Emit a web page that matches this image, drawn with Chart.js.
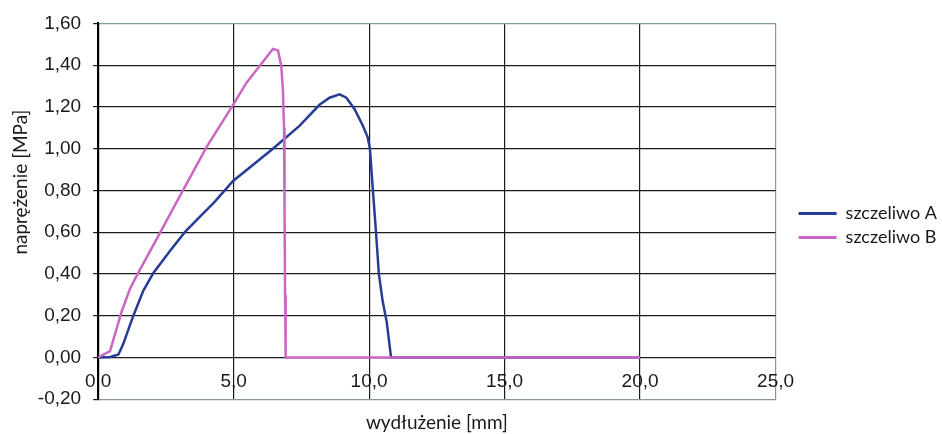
<!DOCTYPE html>
<html>
<head>
<meta charset="utf-8">
<script src="https://cdn.jsdelivr.net/npm/chart.js@4.4.0/dist/chart.umd.min.js"></script>
<style>
  html, body { margin: 0; padding: 0; background: #fff; }
  #wrap { width: 942px; height: 434px; }
</style>
</head>
<body>
<div id="wrap"><canvas id="stressChart"></canvas></div>
<script>
// wydłużenie [mm] -> naprężenie [MPa]
const sealantAX = [0, 0.45, 0.75, 0.93, 1.3, 1.67, 2.04, 2.65, 3.2, 3.76, 4.3, 4.98, 6.45, 7.44, 8.17, 8.54, 8.91, 9.16, 9.46, 9.77, 9.95, 10.03, 10.14, 10.26, 10.36, 10.5, 10.65, 10.81, 20];
const sealantAY = [0, 0.002, 0.014, 0.065, 0.2, 0.32, 0.405, 0.51, 0.6, 0.675, 0.745, 0.845, 1.0, 1.11, 1.21, 1.244, 1.26, 1.244, 1.19, 1.11, 1.054, 1.0, 0.8, 0.59, 0.4, 0.27, 0.17, 0, 0];
const sealantBX = [0, 0.07, 0.44, 0.87, 1.18, 1.48, 2.28, 2.9, 3.76, 4.0, 4.98, 5.47, 6.09, 6.45, 6.64, 6.76, 6.82, 6.86, 6.88, 6.9, 6.92, 20];
const sealantBY = [0, 0.005, 0.03, 0.22, 0.33, 0.405, 0.595, 0.745, 0.95, 1.007, 1.21, 1.315, 1.418, 1.478, 1.47, 1.395, 1.28, 1.1, 0.7, 0.3, 0, 0];

const seriesNames = ["szczeliwo A", "szczeliwo B"];
const xTicks = [0, 5, 10, 15, 20, 25];
const yTicks = [-0.2, 0, 0.2, 0.4, 0.6, 0.8, 1.0, 1.2, 1.4, 1.6];

function toPoints(xs, ys) {
  return xs.map((x, i) => ({ x: x, y: ys[i] }));
}
function comma(v, digits) {
  return v.toFixed(digits).replace(".", ",");
}

const tickFont = { family: "'Liberation Sans', Arial, sans-serif", size: 19 };
const titleFont = { family: "Lato, 'Open Sans', sans-serif", size: 19 };
const legendFont = { family: "Lato, 'Open Sans', sans-serif", size: 18 };
const frameGray = "#8c9597";

Chart.defaults.color = "#1a1a1a";

const ctx = document.getElementById("stressChart").getContext("2d");
new Chart(ctx, {
  type: "scatter",
  data: {
    datasets: [
      {
        label: seriesNames[0],
        data: toPoints(sealantAX, sealantAY),
        showLine: true,
        borderColor: "#263d96",
        backgroundColor: "#263d96",
        borderWidth: 2.5,
        pointRadius: 0,
        order: 1
      },
      {
        label: seriesNames[1],
        data: toPoints(sealantBX, sealantBY),
        showLine: true,
        borderColor: "#cc66c4",
        backgroundColor: "#cc66c4",
        borderWidth: 2.5,
        pointRadius: 0,
        order: 0
      }
    ]
  },
  options: {
    responsive: true,
    maintainAspectRatio: false,
    animation: false,
    layout: { padding: { left: 4, right: -5, top: 17, bottom: 0 } },
    plugins: {
      tooltip: { enabled: false },
      legend: {
        position: "right",
        labels: {
          font: legendFont,
          color: "#1a1a1a",
          boxWidth: 38,
          boxHeight: 3,
          padding: 6,
          sort: (a, b) => a.datasetIndex - b.datasetIndex,
          generateLabels: chart =>
            Chart.defaults.plugins.legend.labels.generateLabels(chart).map(l => {
              l.lineWidth = 0;
              l.fillStyle = chart.data.datasets[l.datasetIndex].borderColor;
              return l;
            })
        }
      }
    },
    scales: {
      x: {
        type: "linear",
        min: 0,
        max: 25,
        afterBuildTicks: s => { s.ticks = xTicks.map(v => ({ value: v })); },
        ticks: { display: false },
        grid: {
          drawTicks: false,
          lineWidth: 1.2,
          color: c => (c.tick && c.tick.value === 25 ? frameGray : "#1c1c1c")
        },
        border: { display: true, color: frameGray, width: 1 },
        title: {
          display: true,
          text: "wydłużenie [mm]",
          font: titleFont,
          color: "#1a1a1a",
          padding: { top: 12, bottom: 0 }
        }
      },
      // tick labels sit just under the zero line, like the original
      xLabels: {
        axis: "x",
        type: "linear",
        min: 0,
        max: 25,
        position: { y: 0 },
        afterBuildTicks: s => { s.ticks = xTicks.map(v => ({ value: v })); },
        afterFit: s => { s.height = 0; },
        ticks: {
          font: tickFont,
          color: "#1a1a1a",
          padding: 5,
          maxRotation: 0,
          autoSkip: false,
          callback: v => comma(v, 1)
        },
        grid: { display: false },
        border: { display: false }
      },
      y: {
        type: "linear",
        min: -0.2,
        max: 1.6,
        afterBuildTicks: s => { s.ticks = yTicks.map(v => ({ value: v })); },
        afterFit: s => { s.width -= 12; },
        ticks: {
          font: tickFont,
          color: "#1a1a1a",
          padding: 12,
          callback: v => comma(v, 2)
        },
        grid: {
          drawTicks: true,
          tickLength: 5,
          tickColor: "#1a1a1a",
          lineWidth: 1.2,
          color: c => {
            if (!c.tick) return "#1c1c1c";
            if (Math.abs(c.tick.value - 1.6) < 1e-6) return "#7d9ba3";
            if (Math.abs(c.tick.value + 0.2) < 1e-6) return frameGray;
            return "#1c1c1c";
          }
        },
        border: { display: true, color: "#000", width: 2 },
        title: {
          display: true,
          text: "\u00a0".repeat(12) + "naprężenie [MPa]",
          font: titleFont,
          color: "#1a1a1a",
          padding: { top: 5, bottom: 6 }
        }
      },
      yGap: {
        type: "linear",
        position: "right",
        display: true,
        grid: { display: false },
        ticks: { display: false },
        border: { display: false },
        afterFit: s => { s.width = 17; }
      }
    }
  }
});
</script>
</body>
</html>
